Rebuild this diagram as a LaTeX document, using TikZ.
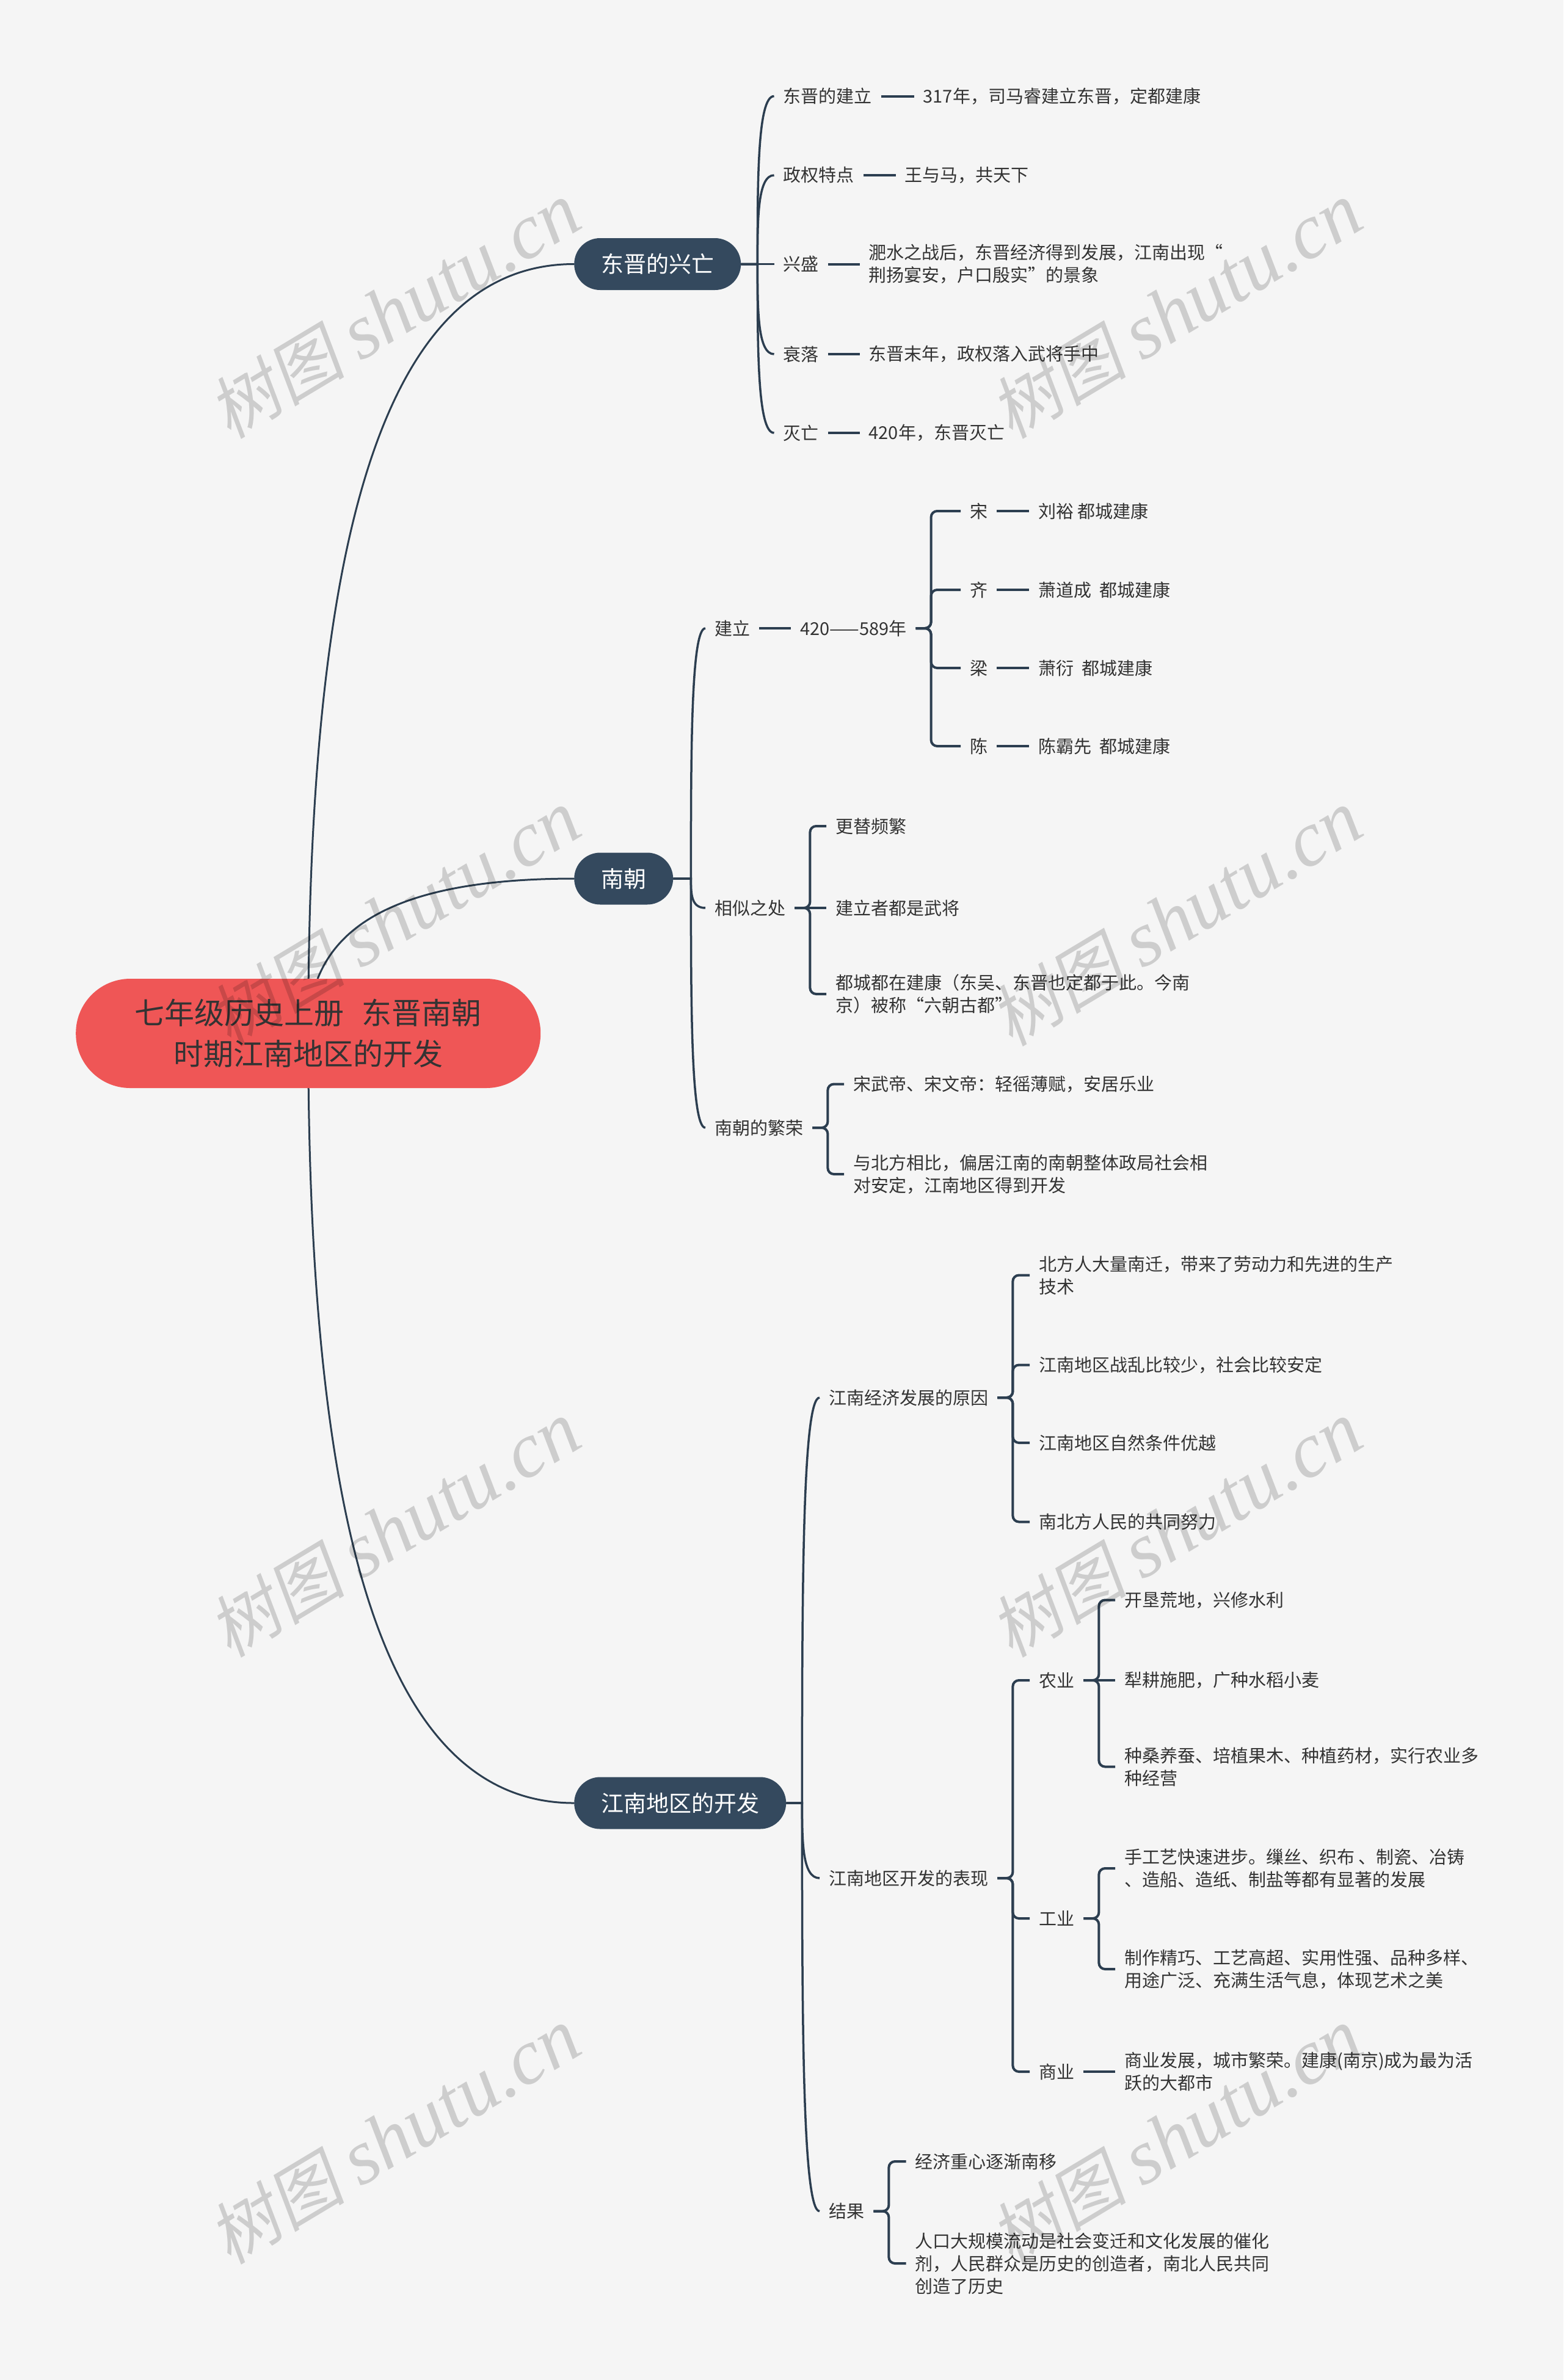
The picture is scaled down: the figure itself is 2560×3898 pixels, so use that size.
\documentclass[tikz,border=0pt]{standalone}
\usepackage{fontspec}
\setmainfont{Noto Sans CJK SC}
\newfontfamily\wmlat{Liberation Serif}
\newfontfamily\wmcjk{Noto Sans CJK SC}[FakeSlant=0.18]
\usetikzlibrary{calc}
\pgfdeclarelayer{bg}
\pgfsetlayers{bg,main}
\definecolor{bgc}{HTML}{F5F5F5}
\definecolor{navy}{HTML}{34495E}
\definecolor{linec}{HTML}{2C3E50}
\definecolor{redc}{HTML}{EF5656}
\definecolor{txtc}{HTML}{333333}
\newcommand\mmcurve[2]{\draw[ctwo] (#1.east) -- (#1s) .. controls ($(#1s)!0.5!(#1s |- #2.west)$) and (#1s |- #2.west) .. (#2.west);}
\newcommand\mmelb[2]{\draw[elb] (#1.east) -- ++(25,0) |- (#2.west);}
\newcommand\mmline[2]{\draw[dsh] (#1.east) -- (#2.west);}
\newcommand\mmroot[1]{\draw[cone] (root.center) .. controls ($(root.center)!0.63!(root.center |- #1.west)$) and ($(root.center |- #1.west)!0.27!(#1.west)$) .. (#1.west);}
\begin{document}
\begin{tikzpicture}[x=1pt,y=-1pt,
  txt/.style={font=\fontsize{29pt}{37pt}\selectfont, text=txtc, inner xsep=15pt, inner ysep=4pt, anchor=west, align=left},
  lone/.style={font=\fontsize{37pt}{44pt}\selectfont, text=white, fill=navy, rounded corners=42.5pt, minimum height=85pt, inner xsep=44pt, anchor=west},
  rootn/.style={font=\fontsize{49pt}{67pt}\selectfont, text=txtc, fill=redc, rounded corners=89pt, minimum height=179pt, minimum width=761pt, anchor=west, align=center},
  cone/.style={draw=linec, line width=3pt},
  ctwo/.style={draw=linec, line width=3.5pt},
  elb/.style={draw=linec, line width=4pt, rounded corners=10pt},
  dsh/.style={draw=linec, line width=4pt},
  wm/.style={font=\fontsize{112pt}{120pt}\selectfont, text=black, text opacity=0.16, rotate=31}
]
\begin{pgfonlayer}{bg}
\fill[bgc] (0,0) rectangle (2560,3898);
\end{pgfonlayer}
\useasboundingbox (0,0) rectangle (2560,3898);

% root and level 1
\node[rootn] (root) at (124,1692.5) {七年级历史上册\hspace{0.6em}东晋南朝\\时期江南地区的开发};
\node[lone] (dj) at (940,432.5) {东晋的兴亡};
\node[lone] (nc) at (940,1439) {南朝};
\node[lone] (jn) at (940,2953) {江南地区的开发};
\coordinate (djs) at ($(dj.east)+(27,0)$);
\coordinate (ncs) at ($(nc.east)+(29,0)$);
\coordinate (jns) at ($(jn.east)+(26,0)$);

% 东晋的兴亡
\node[txt] (a1) at (1267.5,157.5) {东晋的建立};
\node[txt] (b1) at (1496.5,157.5) {317年，司马睿建立东晋，定都建康};
\node[txt] (a2) at (1267.5,287) {政权特点};
\node[txt] (b2) at (1466.5,287) {王与马，共天下};
\node[txt] (a3) at (1267.5,432.5) {兴盛};
\node[txt] (b3) at (1407.5,432.5) {淝水之战后，东晋经济得到发展，江南出现“\\荆扬宴安，户口殷实”的景象};
\node[txt] (a4) at (1267.5,580) {衰落};
\node[txt] (b4) at (1407.5,580) {东晋末年，政权落入武将手中};
\node[txt] (a5) at (1267.5,709) {灭亡};
\node[txt] (b5) at (1407.5,709) {420年，东晋灭亡};

% 南朝
\node[txt] (e1) at (1155,1029) {建立};
\node[txt] (f1) at (1295,1029) {420——589年};
\node[txt] (g1) at (1573,837) {宋};
\node[txt] (h1) at (1685,837) {刘裕 都城建康};
\node[txt] (g2) at (1573,966) {齐};
\node[txt] (h2) at (1685,966) {萧道成~~都城建康};
\node[txt] (g3) at (1573,1094) {梁};
\node[txt] (h3) at (1685,1094) {萧衍~~都城建康};
\node[txt] (g4) at (1573,1222) {陈};
\node[txt] (h4) at (1685,1222) {陈霸先~~都城建康};
\node[txt] (e2) at (1155,1487) {相似之处};
\node[txt] (i1) at (1353,1353) {更替频繁};
\node[txt] (i2) at (1353,1487) {建立者都是武将};
\node[txt] (i3) at (1353,1628) {都城都在建康（东吴、东晋也定都于此。今南\\京）被称“六朝古都”};
\node[txt] (e3) at (1155,1847) {南朝的繁荣};
\node[txt] (j1) at (1382,1775.5) {宋武帝、宋文帝：轻徭薄赋，安居乐业};
\node[txt] (j2) at (1382,1923) {与北方相比，偏居江南的南朝整体政局社会相\\对安定，江南地区得到开发};

% 江南地区的开发
\node[txt] (k1) at (1342,2289) {江南经济发展的原因};
\node[txt] (l1) at (1686,2088.5) {北方人大量南迁，带来了劳动力和先进的生产\\技术};
\node[txt] (l2) at (1686,2235.5) {江南地区战乱比较少，社会比较安定};
\node[txt] (l3) at (1686,2363) {江南地区自然条件优越};
\node[txt] (l4) at (1686,2492.5) {南北方人民的共同努力};
\node[txt] (k2) at (1342,3076) {江南地区开发的表现};
\node[txt] (m1) at (1686,2752) {农业};
\node[txt] (n1) at (1826,2620.5) {开垦荒地，兴修水利};
\node[txt] (n2) at (1826,2752) {犁耕施肥，广种水稻小麦};
\node[txt] (n3) at (1826,2893.5) {种桑养蚕、培植果木、种植药材，实行农业多\\种经营};
\node[txt] (m2) at (1686,3142) {工业};
\node[txt] (o1) at (1826,3060) {手工艺快速进步。缫丝、织布 、制瓷、冶铸\\、造船、造纸、制盐等都有显著的发展};
\node[txt] (o2) at (1826,3225) {制作精巧、工艺高超、实用性强、品种多样、\\用途广泛、充满生活气息，体现艺术之美};
\node[txt] (m3) at (1686,3393) {商业};
\node[txt] (p1) at (1826,3393) {商业发展，城市繁荣。建康(南京)成为最为活\\跃的大都市};
\node[txt] (k3) at (1342,3621.5) {结果};
\node[txt] (q1) at (1483.5,3540) {经济重心逐渐南移};
\node[txt] (q2) at (1483.5,3707) {人口大规模流动是社会变迁和文化发展的催化\\剂，人民群众是历史的创造者，南北人民共同\\创造了历史};

\begin{pgfonlayer}{bg}
\mmroot{dj}
\mmroot{nc}
\mmroot{jn}
\mmcurve{dj}{a1}\mmcurve{dj}{a2}\mmcurve{dj}{a3}\mmcurve{dj}{a4}\mmcurve{dj}{a5}
\mmcurve{nc}{e1}\mmcurve{nc}{e2}\mmcurve{nc}{e3}
\mmcurve{jn}{k1}\mmcurve{jn}{k2}\mmcurve{jn}{k3}
\mmline{a1}{b1}\mmline{a2}{b2}\mmline{a3}{b3}\mmline{a4}{b4}\mmline{a5}{b5}
\mmline{e1}{f1}
\mmelb{f1}{g1}\mmelb{f1}{g2}\mmelb{f1}{g3}\mmelb{f1}{g4}
\mmline{g1}{h1}\mmline{g2}{h2}\mmline{g3}{h3}\mmline{g4}{h4}
\mmelb{e2}{i1}\draw[elb] (e2.east) -- (i2.west);\mmelb{e2}{i3}
\mmelb{e3}{j1}\mmelb{e3}{j2}
\mmelb{k1}{l1}\mmelb{k1}{l2}\mmelb{k1}{l3}\mmelb{k1}{l4}
\mmelb{k2}{m1}\mmelb{k2}{m2}\mmelb{k2}{m3}
\mmelb{m1}{n1}\draw[elb] (m1.east) -- (n2.west);\mmelb{m1}{n3}
\mmelb{m2}{o1}\mmelb{m2}{o2}
\mmline{m3}{p1}
\mmelb{k3}{q1}\mmelb{k3}{q2}
\end{pgfonlayer}

% watermarks
\foreach \wx/\wy [count=\wi] in {646/509,1926/509,646/1504,1926/1504,646/2505,1926/2505,646/3499,1926/3499}{
  \node[wm] (w\wi) at (\wx,\wy) {\wmcjk 树图 \wmlat\itshape\fontsize{128pt}{130pt}\selectfont shutu.cn};
}
\end{tikzpicture}
\end{document}
